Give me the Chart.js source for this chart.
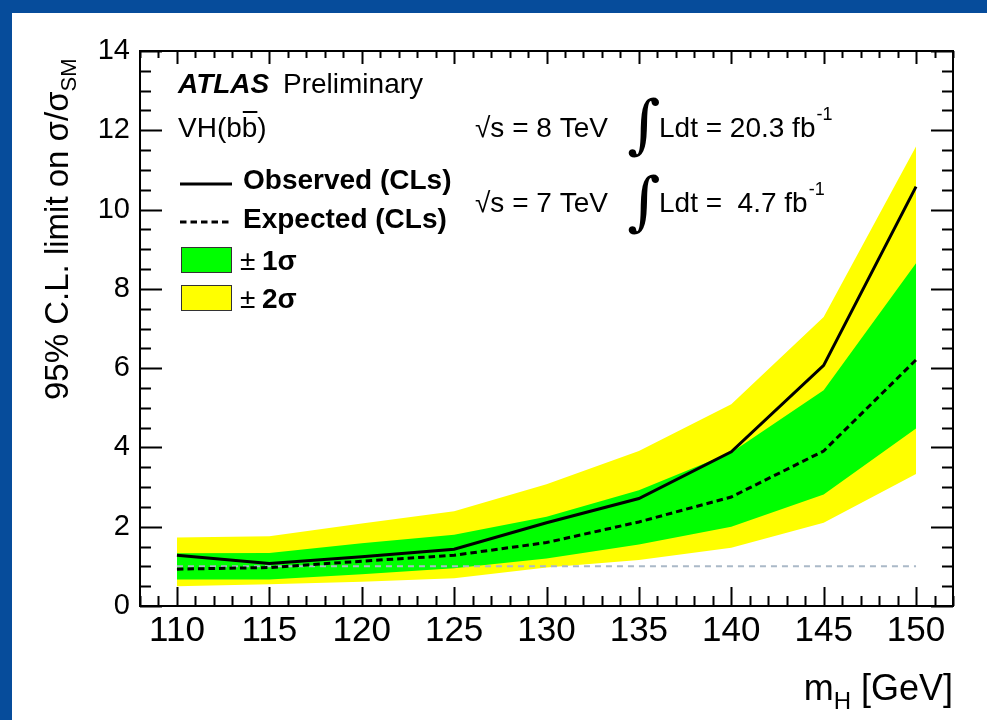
<!DOCTYPE html>
<html>
<head>
<meta charset="utf-8">
<script src="https://cdn.jsdelivr.net/npm/chart.js@4/dist/chart.umd.min.js"></script>
<style>
  html, body { margin: 0; padding: 0; background: #ffffff; }
  #wrap { width: 987px; height: 720px; position: relative; }
</style>
</head>
<body>
<div id="wrap"><canvas id="c" width="987" height="720"></canvas></div>
<script>
// Higgs mass hypotheses [GeV]
const massPoints = [110, 115, 120, 125, 130, 135, 140, 145, 150];
// 95% CL upper limits on sigma/sigma_SM
const observedLimit = [1.28, 1.07, 1.24, 1.43, 2.10, 2.71, 3.89, 6.07, 10.58];
const expectedLimit = [0.93, 0.97, 1.13, 1.28, 1.60, 2.12, 2.75, 3.91, 6.21];
const plusOneSigma  = [1.33, 1.34, 1.58, 1.80, 2.25, 2.92, 3.87, 5.44, 8.65];
const minusOneSigma = [0.67, 0.67, 0.80, 0.95, 1.20, 1.55, 2.00, 2.81, 4.48];
const plusTwoSigma  = [1.73, 1.76, 2.08, 2.39, 3.07, 3.91, 5.09, 7.29, 11.59];
const minusTwoSigma = [0.50, 0.55, 0.61, 0.70, 0.97, 1.16, 1.47, 2.10, 3.33];
// SM reference (sigma/sigma_SM = 1)
const smReference = [1, 1];
const smRange = [110, 150];
// labelled tick values
const xTickLabels = [110, 115, 120, 125, 130, 135, 140, 145, 150];
const yTickLabels = [0, 2, 4, 6, 8, 10, 12, 14];

const FONT = "'Liberation Sans', Arial, Helvetica, sans-serif";
const pts = (ys, xs = massPoints) => xs.map((m, i) => ({ x: m, y: ys[i] }));

// white page with the blue slide frame on top and left
const framePlugin = {
  id: 'slideFrame',
  beforeDraw(chart) {
    const ctx = chart.ctx;
    ctx.save();
    ctx.fillStyle = '#ffffff';
    ctx.fillRect(0, 0, chart.width, chart.height);
    ctx.fillStyle = '#064c9b';
    ctx.fillRect(0, 0, chart.width, 13);
    ctx.fillRect(0, 0, 12, chart.height);
    ctx.restore();
  }
};

// ROOT-style box frame with inward major/minor ticks on all four sides
const tickPlugin = {
  id: 'innerTicks',
  afterDatasetsDraw(chart) {
    const { ctx, chartArea: a, scales: { x, y } } = chart;
    ctx.save();
    ctx.strokeStyle = '#000';
    ctx.lineWidth = 2;
    ctx.beginPath();
    x.ticks.forEach(t => {
      const px = Math.round(x.getPixelForValue(t.value)) + 0.5;
      const major = xTickLabels.includes(t.value);
      ctx.moveTo(px, a.bottom); ctx.lineTo(px, a.bottom - (major ? 19 : 10));
      ctx.moveTo(px, a.top); ctx.lineTo(px, a.top + (major ? 13 : 7));
    });
    y.ticks.forEach(t => {
      const py = Math.round(y.getPixelForValue(t.value)) + 0.5;
      const major = yTickLabels.includes(t.value);
      ctx.moveTo(a.left, py); ctx.lineTo(a.left + (major ? 22 : 11), py);
      ctx.moveTo(a.right, py); ctx.lineTo(a.right - (major ? 22 : 11), py);
    });
    ctx.stroke();
    ctx.strokeRect(a.left, a.top, a.right - a.left, a.bottom - a.top);
    ctx.restore();
  }
};

// titles, legend and labels
const textPlugin = {
  id: 'plotText',
  afterDraw(chart) {
    const ctx = chart.ctx;
    ctx.save();
    ctx.fillStyle = '#000';
    ctx.textBaseline = 'alphabetic';
    ctx.textAlign = 'left';

    // ATLAS Preliminary
    ctx.font = `italic bold 28px ${FONT}`;
    ctx.fillText('ATLAS', 178, 93);
    ctx.font = `28px ${FONT}`;
    ctx.fillText('Preliminary', 283, 93);

    // VH(bb̄)
    const pre = 'VH(b';
    ctx.fillText(pre, 178, 137);
    let cx = 178 + ctx.measureText(pre).width;
    const bw = ctx.measureText('b').width;
    ctx.fillText('b', cx, 137);
    ctx.fillRect(cx + 1, 111, bw - 1, 2);
    ctx.fillText(')', cx + bw, 137);

    // legend entries
    ctx.strokeStyle = '#000';
    ctx.lineWidth = 3;
    ctx.beginPath(); ctx.moveTo(180, 184); ctx.lineTo(232, 184); ctx.stroke();
    ctx.setLineDash([6.5, 4]);
    ctx.beginPath(); ctx.moveTo(180, 222); ctx.lineTo(232, 222); ctx.stroke();
    ctx.setLineDash([]);
    ctx.font = `bold 28px ${FONT}`;
    ctx.fillText('Observed (CLs)', 243, 189);
    ctx.fillText('Expected (CLs)', 243, 228);

    ctx.lineWidth = 1;
    ctx.strokeStyle = '#333';
    ctx.fillStyle = '#00ff00';
    ctx.fillRect(181, 247, 51, 26); ctx.strokeRect(181.5, 247.5, 50, 25);
    ctx.fillStyle = '#ffff00';
    ctx.fillRect(181, 285, 51, 26); ctx.strokeRect(181.5, 285.5, 50, 25);
    ctx.fillStyle = '#000';
    ctx.font = `28px ${FONT}`;
    ctx.fillText('±', 240, 270);
    ctx.fillText('±', 240, 308);
    ctx.font = `bold 28px ${FONT}`;
    ctx.fillText('1σ', 262, 270);
    ctx.fillText('2σ', 262, 308);

    // centre-of-mass energies and luminosities
    ctx.font = `28px ${FONT}`;
    ctx.fillText('√s = 8 TeV', 475, 137);
    ctx.fillText('√s = 7 TeV', 475, 212);
    ctx.fillText('Ldt = 20.3 fb', 659, 137);
    ctx.fillText('Ldt =  4.7 fb', 659, 212);
    const w1 = ctx.measureText('Ldt = 20.3 fb').width;
    const w2 = ctx.measureText('Ldt =  4.7 fb').width;
    ctx.font = `18px ${FONT}`;
    ctx.fillText('-1', 659 + w1 + 1, 120);
    ctx.fillText('-1', 659 + w2 + 1, 195);
    ctx.font = `64px 'DejaVu Serif', 'DejaVu Sans', ${FONT}`;
    ctx.fillText('∫', 627, 146);
    ctx.fillText('∫', 627, 223);

    // x-axis title, right-aligned at the frame edge
    const right = chart.chartArea.right;
    ctx.font = `36px ${FONT}`;
    const wG = ctx.measureText(' [GeV]').width;
    const wm = ctx.measureText('m').width;
    ctx.font = `24px ${FONT}`;
    const wH = ctx.measureText('H').width;
    let xs = right - wG - wH - wm;
    ctx.font = `36px ${FONT}`;
    ctx.fillText('m', xs, 700);
    ctx.fillText(' [GeV]', xs + wm + wH, 700);
    ctx.font = `24px ${FONT}`;
    ctx.fillText('H', xs + wm, 709);

    // y-axis title, rotated
    ctx.translate(68, 400);
    ctx.rotate(-Math.PI / 2);
    ctx.font = `33px ${FONT}`;
    const main = '95% C.L. limit on σ/σ';
    ctx.fillText(main, 0, 0);
    const wMain = ctx.measureText(main).width;
    ctx.font = `22px ${FONT}`;
    ctx.fillText('SM', wMain, 8);
    ctx.restore();
  }
};

const chart = new Chart(document.getElementById('c'), {
  type: 'line',
  data: {
    datasets: [
      { label: '+2 sigma', data: pts(plusTwoSigma), borderWidth: 0, pointRadius: 0,
        backgroundColor: '#ffff00', fill: '+1', order: 10 },
      { label: '-2 sigma', data: pts(minusTwoSigma), borderWidth: 0, pointRadius: 0,
        fill: false, order: 9 },
      { label: '+1 sigma', data: pts(plusOneSigma), borderWidth: 0, pointRadius: 0,
        backgroundColor: '#00ff00', fill: '+1', order: 8 },
      { label: '-1 sigma', data: pts(minusOneSigma), borderWidth: 0, pointRadius: 0,
        fill: false, order: 7 },
      { label: 'SM', data: pts(smReference, smRange), borderColor: '#aab9c8', borderWidth: 2,
        borderDash: [6, 5], pointRadius: 0, fill: false, order: 6 },
      { label: 'Expected (CLs)', data: pts(expectedLimit), borderColor: '#000', borderWidth: 3,
        borderDash: [6.5, 4], pointRadius: 0, fill: false, order: 5 },
      { label: 'Observed (CLs)', data: pts(observedLimit), borderColor: '#000', borderWidth: 3,
        pointRadius: 0, fill: false, order: 4 }
    ]
  },
  options: {
    responsive: false,
    animation: false,
    devicePixelRatio: 1,
    layout: { padding: { top: 51, right: 34, left: 0, bottom: 0 } },
    elements: { line: { tension: 0 } },
    plugins: { legend: { display: false }, tooltip: { enabled: false } },
    scales: {
      x: {
        type: 'linear', min: 108, max: 152,
        grid: { display: false, drawTicks: false },
        border: { display: false },
        afterBuildTicks: s => { const t = []; for (let v = 108; v <= 152; v++) t.push({ value: v }); s.ticks = t; },
        afterFit: s => { s.height = 114; },
        ticks: {
          autoSkip: false, maxRotation: 0, padding: 4, color: '#000',
          font: { family: FONT, size: 35 },
          callback: v => xTickLabels.includes(v) ? String(v) : ''
        }
      },
      y: {
        min: 0, max: 14,
        grid: { display: false, drawTicks: false },
        border: { display: false },
        afterBuildTicks: s => { const t = []; for (let v = 0; v <= 14; v += 0.5) t.push({ value: v }); s.ticks = t; },
        afterFit: s => { s.width = 140; },
        ticks: {
          autoSkip: false, padding: 10, color: '#000',
          font: { family: FONT, size: 29 },
          callback: v => yTickLabels.includes(v) ? String(v) : ''
        }
      }
    }
  },
  plugins: [framePlugin, tickPlugin, textPlugin]
});
</script>
</body>
</html>
